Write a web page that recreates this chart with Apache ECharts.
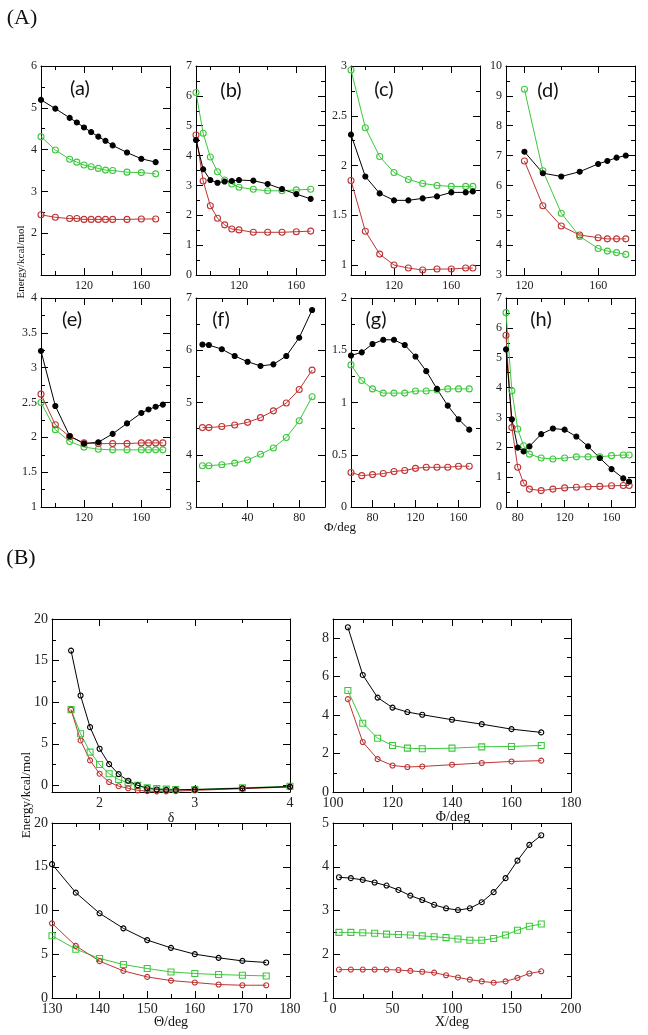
<!DOCTYPE html>
<html>
<head>
<meta charset="utf-8">
<script src="https://cdn.jsdelivr.net/npm/echarts@6/dist/echarts.min.js"></script>
<style>
  html, body { margin: 0; padding: 0; background: #fff; }
  #chart { width: 648px; height: 1035px; }
</style>
</head>
<body>
<div id="chart"></div>
<script>
// ---- (A) panels a-h : x = Φ/deg, y = energy ----
const aX = [90, 100, 110, 115, 120, 125, 130, 135, 140, 150, 160, 170];
const aBlack = [5.19, 4.98, 4.76, 4.65, 4.53, 4.42, 4.31, 4.21, 4.10, 3.93, 3.78, 3.70];
const aGreen = [4.31, 3.99, 3.77, 3.70, 3.63, 3.59, 3.55, 3.51, 3.50, 3.46, 3.45, 3.42];
const aRed = [2.44, 2.38, 2.35, 2.35, 2.33, 2.33, 2.33, 2.33, 2.33, 2.33, 2.34, 2.34];

const bX = [90, 95, 100, 105, 110, 115, 120, 130, 140, 150, 160, 170];
const bBlack = [4.52, 3.54, 3.18, 3.09, 3.13, 3.15, 3.18, 3.16, 3.05, 2.88, 2.71, 2.55];
const bGreen = [6.11, 4.75, 3.95, 3.46, 3.18, 3.05, 2.94, 2.87, 2.82, 2.82, 2.85, 2.87];
const bRed = [4.69, 3.15, 2.32, 1.90, 1.68, 1.54, 1.51, 1.43, 1.43, 1.43, 1.45, 1.47];

const cX = [90, 100, 110, 120, 130, 140, 150, 160, 170, 175];
const cBlack = [2.31, 1.89, 1.72, 1.65, 1.65, 1.67, 1.69, 1.73, 1.73, 1.74];
const cGreen = [2.96, 2.38, 2.09, 1.93, 1.86, 1.82, 1.80, 1.79, 1.79, 1.79];
const cRed = [1.85, 1.34, 1.11, 1.00, 0.97, 0.95, 0.96, 0.96, 0.97, 0.97];

const dX = [120, 130, 140, 150, 160, 165, 170, 175];
const dBlack = [7.13, 6.41, 6.30, 6.46, 6.72, 6.82, 6.93, 7.00];
const dGreen = [9.22, 6.49, 5.07, 4.29, 3.89, 3.80, 3.75, 3.69];
const dRed = [6.82, 5.32, 4.64, 4.34, 4.25, 4.21, 4.21, 4.21];

const eX = [90, 100, 110, 120, 130, 140, 150, 160, 165, 170, 175];
const eBlack = [3.24, 2.45, 2.02, 1.91, 1.93, 2.05, 2.20, 2.35, 2.40, 2.44, 2.47];
const eRed = [2.62, 2.18, 2.01, 1.92, 1.91, 1.91, 1.91, 1.92, 1.92, 1.92, 1.92];
const eGreen = [2.50, 2.11, 1.94, 1.86, 1.83, 1.82, 1.82, 1.82, 1.82, 1.82, 1.82];

const fX = [5, 10, 20, 30, 40, 50, 60, 70, 80, 90];
const fBlack = [6.11, 6.10, 6.02, 5.89, 5.78, 5.70, 5.73, 5.89, 6.24, 6.77];
const fRed = [4.52, 4.52, 4.54, 4.57, 4.62, 4.71, 4.84, 4.99, 5.25, 5.62];
const fGreen = [3.79, 3.79, 3.81, 3.84, 3.90, 4.01, 4.13, 4.33, 4.65, 5.11];

const gX = [60, 70, 80, 90, 100, 110, 120, 130, 140, 150, 160, 170];
const gBlack = [1.45, 1.48, 1.56, 1.60, 1.60, 1.55, 1.44, 1.30, 1.13, 0.97, 0.84, 0.74];
const gGreen = [1.36, 1.21, 1.13, 1.09, 1.09, 1.09, 1.11, 1.11, 1.12, 1.13, 1.13, 1.13];
const gRed = [0.33, 0.30, 0.31, 0.32, 0.34, 0.35, 0.37, 0.38, 0.38, 0.38, 0.39, 0.39];

const hX = [70, 75, 80, 85, 90, 100, 110, 120, 130, 140, 150, 160, 170, 175];
const hBlack = [5.28, 2.94, 1.99, 1.86, 2.03, 2.44, 2.63, 2.59, 2.36, 2.03, 1.64, 1.27, 0.96, 0.85];
const hGreen = [6.51, 3.89, 2.61, 2.05, 1.77, 1.64, 1.61, 1.64, 1.68, 1.68, 1.68, 1.72, 1.74, 1.74];
const hRed = [5.75, 2.66, 1.33, 0.80, 0.60, 0.55, 0.60, 0.64, 0.66, 0.68, 0.69, 0.71, 0.72, 0.72];

// ---- (B) panels ----
const deltaX = [1.7, 1.8, 1.9, 2.0, 2.1, 2.2, 2.3, 2.4, 2.5, 2.6, 2.7, 2.8, 3.0, 3.5, 4.0];
const deltaBlack = [16.2, 10.8, 7.0, 4.4, 2.55, 1.35, 0.55, 0.0, -0.35, -0.5, -0.55, -0.55, -0.5, -0.35, -0.15];
const deltaGreen = [9.1, 6.2, 4.0, 2.5, 1.4, 0.7, 0.3, 0.0, -0.3, -0.4, -0.45, -0.5, -0.5, -0.3, -0.1];
const deltaRed = [9.1, 5.4, 3.0, 1.4, 0.4, -0.1, -0.35, -0.6, -0.7, -0.72, -0.72, -0.7, -0.6, -0.4, -0.2];

const phiX = [105, 110, 115, 120, 125, 130, 140, 150, 160, 170];
const phiBlack = [8.57, 6.09, 4.91, 4.39, 4.16, 4.02, 3.76, 3.53, 3.27, 3.10];
const phiGreen = [5.28, 3.58, 2.80, 2.42, 2.28, 2.25, 2.28, 2.35, 2.37, 2.42];
const phiRed = [4.83, 2.60, 1.71, 1.38, 1.30, 1.33, 1.42, 1.51, 1.59, 1.63];

const thetaX = [130, 135, 140, 145, 150, 155, 160, 165, 170, 175];
const thetaBlack = [15.3, 12.04, 9.68, 7.96, 6.62, 5.73, 5.01, 4.59, 4.24, 4.06];
const thetaRed = [8.53, 5.96, 4.21, 3.10, 2.41, 1.99, 1.77, 1.54, 1.46, 1.46];
const thetaGreen = [7.11, 5.58, 4.52, 3.83, 3.37, 2.98, 2.80, 2.68, 2.60, 2.52];

const chiX = [5, 15, 25, 35, 45, 55, 65, 75, 85, 95, 105, 115, 125, 135, 145, 155, 165, 175];
const chiBlack = [3.76, 3.74, 3.70, 3.64, 3.57, 3.47, 3.34, 3.24, 3.13, 3.05, 3.01, 3.05, 3.19, 3.42, 3.74, 4.14, 4.50, 4.72];
const chiGreen = [2.50, 2.50, 2.49, 2.48, 2.46, 2.45, 2.44, 2.42, 2.40, 2.38, 2.35, 2.32, 2.32, 2.36, 2.44, 2.55, 2.64, 2.69];
const chiRed = [1.65, 1.65, 1.65, 1.65, 1.65, 1.64, 1.62, 1.60, 1.58, 1.52, 1.47, 1.42, 1.38, 1.35, 1.38, 1.46, 1.56, 1.61];

const RED = '#bf3434';
const GREEN = '#3cc83c';
const BLACK = '#000';
const SERIF = 'Liberation Serif';

// box = [left, top, width, height]; x/y = [min, max, major step]
const panels = [
  { box: [41, 66, 129, 209], x: [90, 180, 40], y: [1, 6, 1], hideYMin: true, set: 'A', x0: aX, k: aBlack, r: aRed, g: aGreen },
  { box: [196, 66, 129, 209], x: [90, 180, 40], y: [0, 7, 1], set: 'A', x0: bX, k: bBlack, r: bRed, g: bGreen },
  { box: [351, 66, 129, 209], x: [90, 180, 40], y: [0.9, 3, 0.5], set: 'A', x0: cX, k: cBlack, r: cRed, g: cGreen },
  { box: [506, 66, 129, 209], x: [110, 180, 40], y: [3, 10, 1], set: 'A', x0: dX, k: dBlack, r: dRed, g: dGreen },
  { box: [41, 298, 129, 209], x: [90, 180, 40], y: [1, 4, 0.5], set: 'A', x0: eX, k: eBlack, r: eRed, g: eGreen },
  { box: [196, 298, 129, 209], x: [0, 100, 40], y: [3, 7, 1], hideXMin: true, set: 'A', x0: fX, k: fBlack, r: fRed, g: fGreen },
  { box: [351, 298, 129, 209], x: [60, 180, 40], y: [0, 2, 0.5], set: 'A', x0: gX, k: gBlack, r: gRed, g: gGreen },
  { box: [506, 298, 129, 209], x: [70, 180, 40], y: [0, 7, 1], set: 'A', x0: hX, k: hBlack, r: hRed, g: hGreen },
  { box: [52, 619, 238, 173], x: [1.5, 4, 1], y: [-0.8, 20, 5], set: 'B', x0: deltaX, k: deltaBlack, r: deltaRed, g: deltaGreen },
  { box: [333, 619, 238, 173], x: [100, 180, 20], y: [0, 9, 2], set: 'B', x0: phiX, k: phiBlack, r: phiRed, g: phiGreen },
  { box: [52, 823, 238, 175], x: [130, 180, 10], y: [0, 20, 5], set: 'B', x0: thetaX, k: thetaBlack, r: thetaRed, g: thetaGreen },
  { box: [333, 823, 238, 175], x: [0, 200, 50], y: [1, 5, 1], set: 'B', x0: chiX, k: chiBlack, r: chiRed, g: chiGreen }
];

// only label the major steps (ticks at the min/max edges stay unlabeled)
function labelFmt(step, min, hideMin) {
  return function (v) {
    const q = v / step;
    if (Math.abs(q - Math.round(q)) > 1e-6) return '';
    if (hideMin && Math.abs(v - min) < 1e-9) return '';
    return String(parseFloat(v.toFixed(3)));
  };
}

function makeAxis(i, range, position, showLabels, hideMin, p, isX) {
  const [min, max, step] = range;
  const big = p.set === 'B';
  return {
    type: 'value', gridIndex: i, position: position, min: min, max: max,
    minInterval: step, maxInterval: step,
    splitNumber: Math.round((max - min) / step),
    axisLine: { show: true, onZero: false, lineStyle: { color: '#000', width: 1 } },
    axisTick: { show: true, inside: true, length: 7, lineStyle: { color: '#000', width: 1 } },
    minorTick: { show: true, splitNumber: 2, length: 4, lineStyle: { color: '#000', width: 1 } },
    splitLine: { show: false },
    minorSplitLine: { show: false },
    axisLabel: {
      show: showLabels,
      formatter: labelFmt(step, min, hideMin),
      fontFamily: SERIF,
      fontSize: big ? 14 : 12,
      color: '#222',
      margin: isX ? (big ? 4 : 5) : 4
    }
  };
}

function lineSeries(i, xs, ys, color, symbol, filled, size) {
  return {
    type: 'line', xAxisIndex: 2 * i, yAxisIndex: 2 * i,
    data: xs.map((x, n) => [x, ys[n]]),
    symbol: symbol, symbolSize: size, showSymbol: true,
    lineStyle: { color: color, width: 1 },
    itemStyle: { color: filled ? color : 'rgba(255,255,255,0)', borderColor: color, borderWidth: 1.1 },
    emphasis: { disabled: true },
    silent: true, animation: false
  };
}

const grids = [], xAxes = [], yAxes = [], series = [];
panels.forEach((p, i) => {
  grids.push({ left: p.box[0], top: p.box[1], width: p.box[2], height: p.box[3], containLabel: false, outerBoundsMode: 'none' });
  xAxes.push(makeAxis(i, p.x, 'bottom', true, p.hideXMin, p, true));
  xAxes.push(makeAxis(i, p.x, 'top', false, false, p, true));
  yAxes.push(makeAxis(i, p.y, 'left', true, p.hideYMin, p, false));
  yAxes.push(makeAxis(i, p.y, 'right', false, false, p, false));
  if (p.set === 'A') {
    series.push(lineSeries(i, p.x0, p.g, GREEN, 'circle', false, 6));
    series.push(lineSeries(i, p.x0, p.r, RED, 'circle', false, 6));
    series.push(lineSeries(i, p.x0, p.k, BLACK, 'circle', true, 5));
  } else {
    series.push(lineSeries(i, p.x0, p.g, GREEN, 'rect', false, 6));
    series.push(lineSeries(i, p.x0, p.r, RED, 'circle', false, 5));
    series.push(lineSeries(i, p.x0, p.k, BLACK, 'circle', false, 5));
  }
});

function txt(text, x, y, font, rot) {
  return {
    type: 'text', x: x, y: y, rotation: rot || 0, silent: true,
    style: { text: text, font: font, fill: '#111', align: 'center', verticalAlign: 'middle' }
  };
}

const tags = [['(a)', 80, 89], ['(b)', 231, 91], ['(c)', 384, 90], ['(d)', 548, 91],
              ['(e)', 72, 320], ['(f)', 221, 320], ['(g)', 376, 320], ['(h)', 541, 320]];

const graphic = [
  txt('(A)', 22, 18, '22px "' + SERIF + '"'),
  txt('(B)', 21, 558, '22px "' + SERIF + '"'),
  txt('Energy/kcal/mol', 21, 262, '11px "' + SERIF + '"', Math.PI / 2),
  txt('Φ/deg', 340, 528, '13px "' + SERIF + '"'),
  txt('Energy/kcal/mol', 27, 795, '13px "' + SERIF + '"', Math.PI / 2),
  txt('δ', 171, 818, '14px "' + SERIF + '"'),
  txt('Φ/deg', 453, 817, '14px "' + SERIF + '"'),
  txt('Θ/deg', 171, 1022, '14px "' + SERIF + '"'),
  txt('X/deg', 452, 1022, '14px "' + SERIF + '"')
].concat(tags.map(t => txt(t[0], t[1], t[2], '20px Lato')));

const chart = echarts.init(document.getElementById('chart'), null, { renderer: 'canvas' });
chart.setOption({
  backgroundColor: '#fff',
  animation: false,
  grid: grids,
  xAxis: xAxes,
  yAxis: yAxes,
  series: series,
  graphic: graphic
});
</script>
</body>
</html>
